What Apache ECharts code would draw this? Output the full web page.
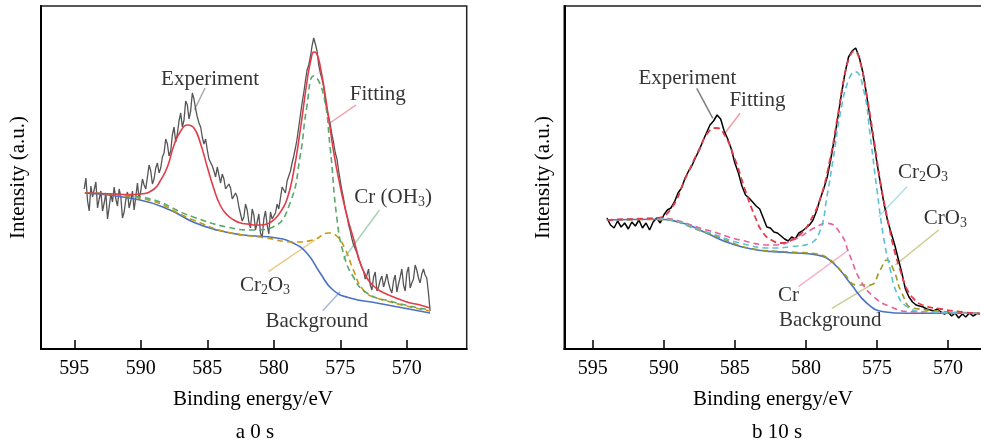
<!DOCTYPE html>
<html>
<head>
<meta charset="utf-8">
<script src="https://cdn.jsdelivr.net/npm/echarts@6/dist/echarts.min.js"></script>
<style>
  html, body { margin: 0; padding: 0; background: #fff; }
  #main { width: 981px; height: 445px; }
</style>
</head>
<body>
<div id="main"></div>
<script>
const serif = "'Liberation Serif','Times New Roman',serif";
const tickLabels = [595, 590, 585, 580, 575, 570];

// ---- panel a (0 s) ----
const aExpStart = 594.25, aExpStep = 0.125;
const aExp = [160, 171, 148, 138, 163, 152, 150, 167, 141, 150,
  158, 138, 146, 156, 130, 142, 155, 147, 162, 150,
  143, 160, 152, 131, 137, 149, 157, 141, 148, 158,
  139, 152, 166, 150, 158, 170, 164, 160, 172, 184,
  178, 165, 170, 181, 186, 176, 181, 192, 196, 210,
  205, 193, 198, 214, 222, 207, 215, 228, 236, 222,
  229, 248, 244, 230, 238, 256, 250, 240, 232, 226,
  222, 212, 205, 210, 199, 190, 188, 183, 178, 172,
  182, 174, 166, 175, 170, 160, 158, 165, 161, 150,
  148, 156, 152, 142, 140, 128, 132, 145, 139, 127,
  121, 140, 134, 119, 127, 135, 116, 111, 130, 138,
  124, 115, 137, 130, 128, 136, 145, 140, 151, 162,
  160, 156, 168, 173, 178, 186, 193, 201, 210, 222,
  234, 246, 256, 268, 279, 284, 292, 303, 311, 305,
  298, 284, 276, 270, 262, 248, 238, 232, 224, 214,
  206, 196, 190, 178, 168, 158, 150, 140, 133, 124,
  118, 110, 104, 100, 96, 90, 86, 81, 78, 70,
  74, 80, 64, 59, 72, 77, 58, 62, 69, 73,
  62, 68, 75, 66, 60, 56, 68, 74, 57, 65,
  72, 80, 64, 58, 76, 82, 61, 66, 70, 84,
  79, 71, 66, 75, 80, 74, 71, 56, 38];
const aFit = [[594.2, 156], [593, 155.5], [592, 155], [591, 154.5], [590, 155], [589, 160], [588.5, 169], [588, 182],
  [587.5, 204], [587, 218], [586.5, 224], [586, 221], [585.5, 205], [585, 182], [584.5, 160], [584, 143],
  [583.5, 134], [583, 129], [582.5, 126], [582, 125], [581.5, 124], [581, 124], [580.5, 125], [580, 129],
  [579.5, 137], [579, 150], [578.5, 178], [578, 220], [577.5, 268], [577.2, 290], [577, 297], [576.8, 296],
  [576.5, 282], [576, 242], [575.5, 197], [575, 162], [574.5, 133], [574, 110], [573.5, 86], [573, 71],
  [572.5, 63], [572, 58], [571, 52], [570, 47], [569, 44], [568.25, 41]];
const aBg = [[594.2, 156], [590.06, 149], [587.8, 139], [586.07, 127], [584.29, 119], [582.31, 114],
  [579.78, 111], [578.55, 106], [577.52, 96], [576.52, 76], [575.55, 59], [574.27, 51], [572.26, 46], [568.25, 36]];
const aCr2O3 = [[594.2, 156], [590.06, 151], [586.05, 129], [583.54, 117], [580.53, 111], [578.55, 107],
  [577.03, 109], [575.9, 116], [575.27, 113], [574.64, 100], [574.02, 79], [573.27, 59], [572.26, 51], [568.25, 38]];
const aCrOH3 = [[594.2, 156], [590.06, 152], [586.05, 132], [583.54, 122], [581.5, 119], [580.06, 122],
  [578.78, 146], [578.03, 192], [577.52, 242], [577.0, 273], [576.3, 256], [575.77, 202], [575.27, 132],
  [574.77, 96], [574.02, 72], [573.0, 56], [571.03, 47], [568.25, 39]];

// ---- panel b (10 s) ----
const bExpStart = 594.0, bExpStep = 0.25;
const bExp = [131, 124, 121, 128, 122, 126, 120, 127, 123, 129, 121, 126, 119, 127, 131, 126, 134, 139, 141, 147,
  156, 161, 171, 178, 184, 192, 199, 208, 216, 224, 228, 234, 230, 218, 210, 200, 186, 176, 163, 154,
  151, 147, 143, 140, 131, 122, 121, 117, 116, 113, 110, 108, 112, 110, 116, 118, 121, 124, 129, 138,
  150, 160, 172, 190, 210, 232, 255, 276, 292, 298, 301, 292, 277, 256, 232, 210, 186, 165, 145, 128,
  116, 104, 90, 76, 60, 52, 47, 44, 43, 42, 40, 39, 38, 40, 37, 35, 37, 33, 36, 31,
  35, 32, 36, 33, 35];
const bFit = [[594.0, 129], [592, 130], [590.5, 131], [589.5, 140], [588.5, 170], [587.5, 200], [586.8, 218],
  [586.3, 221], [585.8, 216], [585, 190], [584.3, 160], [583.6, 133], [583, 116], [582.3, 108], [581.7, 106],
  [581, 109], [580.3, 116], [579.7, 128], [579, 150], [578.3, 190], [577.8, 230], [577.3, 272], [576.9, 293],
  [576.6, 298], [576.2, 288], [575.7, 252], [575.2, 208], [574.7, 162], [574.2, 126], [573.8, 100],
  [573.3, 76], [572.9, 60], [572.4, 50], [571.8, 44], [570.5, 40], [569, 37], [567.75, 35]];
const bBg = [[594.0, 129], [590.49, 129.7], [588.62, 125.7], [586.97, 115.7], [585.33, 105.7], [583.45, 99],
  [581.11, 96.3], [579.23, 94], [578.06, 85.7], [576.88, 65.7], [575.7, 45.7], [574.54, 37.3], [572.89, 35.7],
  [567.75, 35.7]];
const bCr = [[594.0, 129], [590.49, 130.7], [586.97, 119], [584.63, 109], [582.28, 104], [580.63, 110.7],
  [579.46, 120.7], [578.52, 125.7], [577.58, 115.7], [576.88, 92.3], [576.18, 69], [575.24, 52.3],
  [574.06, 42.3], [572.65, 37.3], [567.75, 35.7]];
const bCr2O3 = [[594.0, 129], [590.49, 130], [586.97, 117], [584.63, 106], [582.28, 101], [581.11, 102.3],
  [579.7, 105.7], [578.99, 119], [578.52, 152.3], [578.06, 192.3], [577.58, 235.7], [577.0, 269],
  [576.53, 277.3], [575.94, 259], [575.47, 212.3], [575.0, 159], [574.54, 112.3], [574.06, 79],
  [573.59, 55.7], [572.89, 42.3], [571.72, 37.3], [567.75, 35.7]];
const bCrO3 = [[594.0, 129], [590.49, 129.5], [586.97, 116], [583.45, 99.5], [581.11, 97], [579.23, 95],
  [578.29, 89], [577.35, 75.7], [576.41, 64], [575.47, 64], [574.77, 79], [574.3, 89], [573.83, 79],
  [573.24, 55.7], [572.42, 40.7], [567.75, 36]];

// annotations: label position and leader line, in data coordinates
const aNotes = [
  { text: 'Experiment', at: [584.79, 270], line: [[585.97, 239], [585.17, 261]], color: '#555' },
  { text: 'Fitting', at: [572.18, 254.7], line: [[575.9, 225], [573.82, 244]], color: '#e23c4a' },
  { text: 'Cr (OH{s|3})', at: [571.03, 151.3], line: [[572.06, 139], [574.77, 89.7]], color: '#5aa86c' },
  { text: 'Cr{s|2}O{s|3}', at: [580.66, 64], line: [[580.41, 77.3], [576.9, 109]], color: '#c99a14' },
  { text: 'Background', at: [576.77, 27.3], line: [[576.32, 38.3], [575.02, 57.3]], color: '#4a72c4' }
];
const bNotes = [
  { text: 'Experiment', at: [588.34, 270.7], line: [[587.68, 260.7], [586.55, 230.7]], color: '#000' },
  { text: 'Fitting', at: [583.41, 248.3], line: [[584.63, 235.7], [585.8, 214]], color: '#e23c4a' },
  { text: 'Cr{s|2}O{s|3}', at: [571.76, 176.3], line: [[572.89, 162.3], [574.89, 132.3]], color: '#5ec2d2' },
  { text: 'CrO{s|3}', at: [570.19, 130.7], line: [[570.66, 119], [573.71, 84]], color: '#9a9a22' },
  { text: 'Cr', at: [581.23, 54], line: [[580.52, 62.3], [577.0, 99]], color: '#e8609b' },
  { text: 'Background', at: [578.29, 28.3], line: [[578.17, 40.7], [575.24, 65.7]], color: '#9a9a22' }
];

function expData(start, step, vals) {
  return vals.map((v, i) => [+(start - i * step).toFixed(3), v]);
}

function curve(data, gi, color, dashed, width, smooth) {
  return {
    type: 'line', xAxisIndex: gi, yAxisIndex: gi, data: data,
    showSymbol: false, smooth: smooth, silent: true,
    lineStyle: { color: color, width: width || 1.6, type: dashed ? [6, 4] : 'solid' }
  };
}

function notes(list, gi) {
  return [{
    type: 'lines', coordinateSystem: 'cartesian2d', xAxisIndex: gi, yAxisIndex: gi, silent: true,
    data: list.map(n => ({ coords: n.line, lineStyle: { color: n.color, width: 1.5 } }))
  }, {
    type: 'scatter', xAxisIndex: gi, yAxisIndex: gi, symbolSize: 0, silent: true,
    data: list.map(n => ({ value: n.at, name: n.text })),
    label: {
      show: true, position: 'inside', formatter: '{b}', color: '#000',
      fontSize: 21, fontFamily: serif,
      rich: { s: { fontSize: 14, fontFamily: serif, color: '#000', verticalAlign: 'bottom', padding: [10, 0, 0, 0] } }
    }
  }];
}

function xAxis(gi, min, max) {
  return {
    type: 'value', gridIndex: gi, min: min, max: max, inverse: true,
    axisLine: { show: true, onZero: false, lineStyle: { color: '#000', width: 2 } },
    axisTick: { show: true, inside: true, length: 9, customValues: tickLabels, lineStyle: { color: '#000', width: 1.5 } },
    axisLabel: { customValues: tickLabels, margin: 10, color: '#000', fontSize: 20, fontFamily: serif },
    splitLine: { show: false }
  };
}

function yAxis(gi, gap) {
  return {
    type: 'value', gridIndex: gi, min: 0, max: 343,
    axisLine: { show: true, lineStyle: { color: '#000', width: 2 } },
    axisTick: { show: false }, axisLabel: { show: false }, splitLine: { show: false },
    name: 'Intensity (a.u.)', nameLocation: 'middle', nameGap: gap, nameRotate: 90,
    nameTextStyle: { fontSize: 21, color: '#000', fontFamily: serif }
  };
}

function caption(text, x, y) {
  return { type: 'text', x: x, y: y, silent: true,
    style: { text: text, align: 'center', verticalAlign: 'middle', fontSize: 21, fontFamily: serif, fill: '#000' } };
}

const chart = echarts.init(document.getElementById('main'));
chart.setOption({
  animation: false,
  backgroundColor: '#fff',
  grid: [
    { left: 41, top: 6, width: 425.7, height: 343, outerBoundsMode: 'none',
      show: true, borderColor: '#222', borderWidth: 1.5 },
    { left: 564.3, top: 6, right: -31, height: 343, outerBoundsMode: 'none',
      show: true, borderColor: '#555', borderWidth: 2 }
  ],
  xAxis: [xAxis(0, 565.5, 597.5), xAxis(1, 565.5, 597.0)],
  yAxis: [yAxis(0, 12), yAxis(1, 10)],
  graphic: [
    caption('Binding energy/eV', 253, 399),
    caption('a 0 s', 255, 432),
    caption('Binding energy/eV', 773, 399),
    caption('b 10 s', 777, 432)
  ],
  series: [
    curve(expData(aExpStart, aExpStep, aExp), 0, '#555555', false, 1.3, false),
    curve(aBg, 0, '#4a72c4', false, 1.6, true),
    curve(aCr2O3, 0, '#c99a14', true, 1.6, true),
    curve(aCrOH3, 0, '#5aa86c', true, 1.6, true),
    curve(aFit, 0, '#e23c4a', false, 1.6, true),
    ...notes(aNotes, 0),
    curve(expData(bExpStart, bExpStep, bExp), 1, '#000000', false, 1.5, false),
    curve(bBg, 1, '#4a72c4', false, 1.6, true),
    curve(bCrO3, 1, '#9a9a22', true, 1.6, true),
    curve(bCr, 1, '#e8609b', true, 1.6, true),
    curve(bCr2O3, 1, '#5ec2d2', true, 1.6, true),
    curve(bFit, 1, '#e23c4a', true, 1.8, true),
    ...notes(bNotes, 1)
  ]
});
</script>
</body>
</html>
